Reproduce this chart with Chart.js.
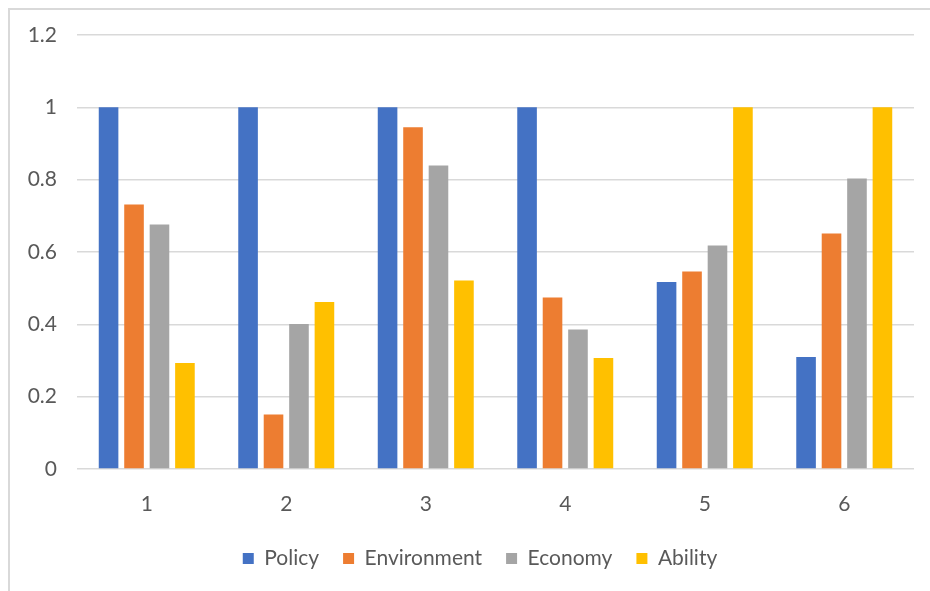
<!DOCTYPE html>
<html>
<head>
<meta charset="utf-8">
<script src="https://cdn.jsdelivr.net/npm/chart.js@4.4.1/dist/chart.umd.min.js"></script>
<style>
  html, body { margin: 0; padding: 0; background: #fff; }
  #wrap { position: relative; width: 930px; height: 591px; }
  #frame { position: absolute; left: 8px; top: 8px; width: 930px; height: 600px; border: 2px solid #d9d9d9; box-sizing: border-box; }
  canvas { position: absolute; left: 0; top: 0; }
</style>
</head>
<body>
<div id="wrap">
  <div id="frame"></div>
  <canvas id="chart" width="930" height="591"></canvas>
</div>
<script>
// categorias y series
const categories = ['1', '2', '3', '4', '5', '6'];
const policy = [1, 1, 1, 1, 0.517, 0.31];
const environment = [0.731, 0.151, 0.945, 0.474, 0.546, 0.651];
const economy = [0.676, 0.401, 0.839, 0.386, 0.618, 0.803];
const ability = [0.293, 0.462, 0.521, 0.307, 1, 1];
const yTicks = [0, 0.2, 0.4, 0.6, 0.8, 1, 1.2];

const textColor = '#595959';
const gridColor = '#d9d9d9';
const font = { family: 'Lato, "Noto Sans", sans-serif', size: 21 };

function serie(label, data, color) {
  return {
    label: label,
    data: data,
    backgroundColor: color,
    borderWidth: 0,
    categoryPercentage: 0.73,
    barPercentage: 0.77
  };
}

// mover la leyenda un poco a la derecha, como en la imagen
const legendShift = {
  id: 'legendShift',
  afterLayout: function(chart) {
    chart.legend.left = 46;
    chart.legend.width = chart.legend.right - chart.legend.left;
  }
};

const ctx = document.getElementById('chart');
new Chart(ctx, {
  type: 'bar',
  data: {
    labels: categories,
    datasets: [
      serie('Policy', policy, '#4472C4'),
      serie('Environment', environment, '#ED7D31'),
      serie('Economy', economy, '#A5A5A5'),
      serie('Ability', ability, '#FFC000')
    ]
  },
  plugins: [legendShift],
  options: {
    responsive: false,
    animation: false,
    layout: { padding: { left: 0, right: 16, top: 35, bottom: 12 } },
    plugins: {
      tooltip: { enabled: false },
      legend: {
        position: 'bottom',
        labels: {
          color: textColor,
          font: font,
          boxWidth: 11,
          boxHeight: 11,
          padding: 24
        }
      }
    },
    scales: {
      x: {
        grid: { display: false },
        border: { display: false },
        ticks: { color: textColor, font: font, padding: 15 },
        afterFit: function(scale) { scale.height = 55; }
      },
      y: {
        min: 0,
        max: 1.2,
        afterBuildTicks: function(scale) {
          scale.ticks = yTicks.map(function(v) { return { value: v }; });
        },
        ticks: {
          color: textColor,
          font: font,
          padding: 20,
          callback: function(v) { return String(Math.round(v * 10) / 10); }
        },
        grid: { color: gridColor, lineWidth: 1.5, drawTicks: false },
        border: { display: false },
        afterFit: function(scale) { scale.width = 77; }
      }
    }
  }
});
</script>
</body>
</html>
